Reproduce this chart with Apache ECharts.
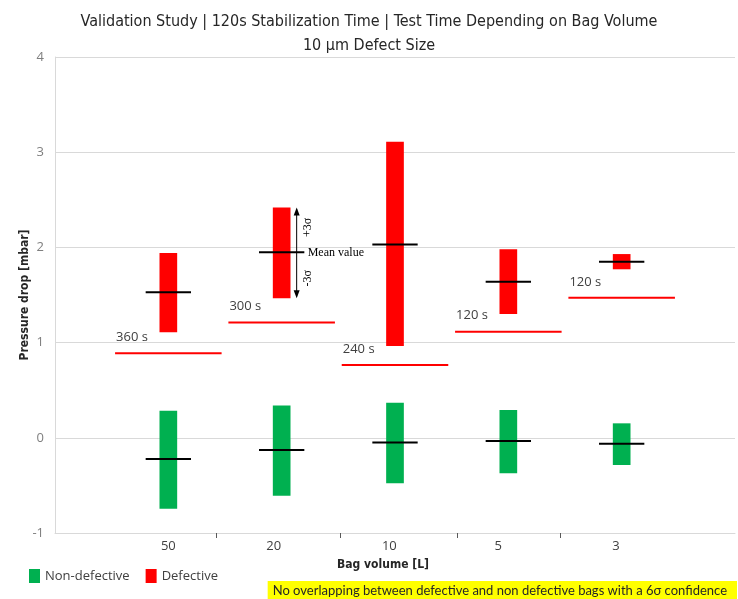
<!DOCTYPE html>
<html>
<head>
<meta charset="utf-8">
<script src="https://cdn.jsdelivr.net/npm/echarts@6/dist/echarts.min.js"></script>
<style>
  html, body { margin: 0; padding: 0; background: #fff; }
  #chart { width: 738px; height: 599px; }
</style>
</head>
<body>
<div id="chart"></div>
<script>
// bag volumes, in the order they sit along the axis
const categories = ['50', '20', '10', '5', '3']
const catPos = [1, 2, 3, 4, 5]
// where the excel chart put its labels / little tick marks
const labelPos = [1.0, 1.93, 2.95, 3.91, 4.95]
const tickPos = [1.42, 2.52, 3.55, 4.46]

// defective bags: -3 sigma, +3 sigma, mean (mbar)
const defLow = [1.11, 1.465, 0.965, 1.30, 1.77]
const defHigh = [1.94, 2.42, 3.11, 1.98, 1.93]
const defMean = [1.53, 1.95, 2.03, 1.64, 1.85]

// non-defective bags
const okLow = [-0.745, -0.61, -0.478, -0.373, -0.286]
const okHigh = [0.285, 0.34, 0.369, 0.292, 0.152]
const okMean = [-0.223, -0.128, -0.05, -0.034, -0.062]

// test time threshold per bag volume
const testLevel = [0.888, 1.21, 0.765, 1.115, 1.47]
const testLabel = ['360 s', '300 s', '240 s', '120 s', '120 s']

const sansFont = "'Open Sans', 'Noto Sans', sans-serif"
const titleFont = "'Liberation Sans Narrow', 'DejaVu Sans Condensed', 'Roboto', sans-serif"
const serifFont = "'Liberation Serif', 'DejaVu Serif', serif"

function boxItem (params, api) {
  const x = api.value(0)
  const lo = api.coord([x, api.value(1)])
  const hi = api.coord([x, api.value(2)])
  const mid = api.coord([x, api.value(3)])
  const unit = api.size([1, 0])[0]
  const bw = unit * 0.156
  const mw = unit * 0.4
  return {
    type: 'group',
    children: [
      {
        type: 'rect',
        shape: { x: lo[0] - bw / 2, y: hi[1], width: bw, height: lo[1] - hi[1] },
        style: { fill: api.visual('color') }
      },
      {
        type: 'line',
        shape: { x1: mid[0] - mw / 2, y1: mid[1], x2: mid[0] + mw / 2, y2: mid[1] },
        style: { stroke: '#000', lineWidth: 2 }
      }
    ]
  }
}

function testLineItem (params, api) {
  const x = api.value(0)
  const y = api.value(1)
  const a = api.coord([x - 0.47, y])
  const b = api.coord([x + 0.47, y])
  return {
    type: 'group',
    children: [
      {
        type: 'line',
        shape: { x1: a[0], y1: a[1], x2: b[0], y2: b[1] },
        style: { stroke: '#ff0000', lineWidth: 2 }
      },
      {
        type: 'text',
        x: a[0] + 1,
        y: a[1] - 16,
        style: {
          text: testLabel[params.dataIndex],
          fill: '#404040',
          font: '13px ' + sansFont,
          align: 'left',
          verticalAlign: 'middle'
        }
      }
    ]
  }
}

// the +3σ / -3σ explanation next to the 20 L bar
function sigmaItem (params, api) {
  const x = api.value(0)
  const lo = api.coord([x, api.value(1)])
  const hi = api.coord([x, api.value(2)])
  const mid = api.coord([x, api.value(3)])
  const ax = lo[0] + 15
  const txt = (t, px, py, rot) => ({
    type: 'text',
    x: px,
    y: py,
    rotation: rot,
    style: { text: t, fill: '#000', font: '12px ' + serifFont, align: rot ? 'center' : 'left', verticalAlign: 'middle' }
  })
  return {
    type: 'group',
    children: [
      { type: 'line', shape: { x1: ax, y1: hi[1] + 2, x2: ax, y2: lo[1] - 2 }, style: { stroke: '#000', lineWidth: 1 } },
      { type: 'polygon', shape: { points: [[ax, hi[1]], [ax - 3, hi[1] + 8], [ax + 3, hi[1] + 8]] }, style: { fill: '#000' } },
      { type: 'polygon', shape: { points: [[ax, lo[1]], [ax - 3, lo[1] - 8], [ax + 3, lo[1] - 8]] }, style: { fill: '#000' } },
      txt('+3σ', ax + 11, hi[1] + 20, Math.PI / 2),
      txt('-3σ', ax + 11, mid[1] + 26, Math.PI / 2),
      txt('Mean value', ax + 11, mid[1] + 1, 0)
    ]
  }
}

const chart = echarts.init(document.getElementById('chart'))

chart.setOption({
  animation: false,
  title: [
    {
      text: 'Validation Study | 120s Stabilization Time | Test Time Depending on Bag Volume\n10 µm Defect Size',
      left: 'center',
      top: 5,
      textStyle: { fontFamily: titleFont, fontSize: 16, fontWeight: 'normal', color: '#262626', lineHeight: 24 }
    },
    {
      text: 'No overlapping between defective and non defective bags with a 6σ confidence',
      right: 1,
      bottom: 0,
      backgroundColor: '#ffff00',
      padding: [3, 10, 2, 5],
      textStyle: { fontFamily: "'Lato', sans-serif", fontSize: 13, fontWeight: 'normal', color: '#262626' }
    }
  ],
  legend: {
    data: ['Non-defective', 'Defective'],
    left: 24,
    top: 564,
    icon: 'rect',
    itemWidth: 11,
    itemHeight: 14,
    itemGap: 16,
    textStyle: { fontFamily: sansFont, fontSize: 13, color: '#404040' }
  },
  grid: { left: 55, right: 3, top: 57, bottom: 66 },
  xAxis: {
    type: 'value',
    min: 0,
    max: 6,
    name: 'Bag volume [L]',
    nameLocation: 'middle',
    nameGap: 26,
    nameTextStyle: { fontFamily: titleFont, fontSize: 12, fontWeight: 'bold', color: '#262626', padding: [0, 24, 0, 0] },
    splitLine: { show: false },
    axisLine: { show: true, onZero: false, lineStyle: { color: '#d9d9d9' } },
    axisTick: { show: true, customValues: tickPos, length: 5, lineStyle: { color: '#595959' } },
    axisLabel: {
      customValues: labelPos,
      margin: 7,
      fontFamily: sansFont,
      fontSize: 13,
      color: '#404040',
      formatter: v => categories[labelPos.indexOf(v)] ?? ''
    }
  },
  yAxis: {
    type: 'value',
    min: -1,
    max: 4,
    interval: 1,
    name: 'Pressure drop [mbar]',
    nameLocation: 'middle',
    nameGap: 24,
    nameMoveOverlap: false,
    nameTextStyle: { fontFamily: titleFont, fontSize: 12, fontWeight: 'bold', color: '#262626' },
    axisLine: { show: true, lineStyle: { color: '#d9d9d9' } },
    axisTick: { show: false },
    splitLine: { lineStyle: { color: '#d9d9d9' } },
    axisLabel: { fontFamily: sansFont, fontSize: 13, color: '#7f7f7f', margin: 11 }
  },
  series: [
    {
      name: 'Non-defective',
      type: 'custom',
      itemStyle: { color: '#00b050' },
      renderItem: boxItem,
      data: catPos.map((x, i) => [x, okLow[i], okHigh[i], okMean[i]])
    },
    {
      name: 'Defective',
      type: 'custom',
      itemStyle: { color: '#ff0000' },
      renderItem: boxItem,
      data: catPos.map((x, i) => [x, defLow[i], defHigh[i], defMean[i]])
    },
    {
      name: 'Test time',
      type: 'custom',
      renderItem: testLineItem,
      data: catPos.map((x, i) => [x, testLevel[i]])
    },
    {
      name: 'Sigma note',
      type: 'custom',
      renderItem: sigmaItem,
      data: [[catPos[1], defLow[1], defHigh[1], defMean[1]]]
    }
  ]
})
</script>
</body>
</html>
